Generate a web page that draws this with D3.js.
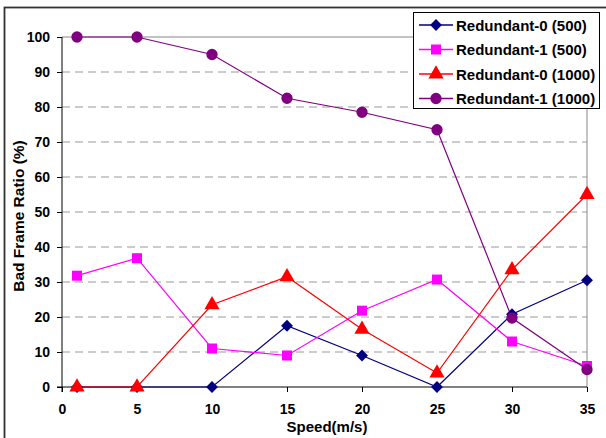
<!DOCTYPE html>
<html><head><meta charset="utf-8">
<script src="https://cdn.jsdelivr.net/npm/d3@7"></script>
<style>body{margin:0;background:#fff}svg{display:block}text{font-family:"Liberation Sans",Arial,sans-serif;font-weight:bold}</style>
</head><body>
<script>
const speeds = [1, 5, 10, 15, 20, 25, 30, 35];
const xTicks = [0, 5, 10, 15, 20, 25, 30, 35];
const yTicks = [0, 10, 20, 30, 40, 50, 60, 70, 80, 90, 100];
const seriesNames = ["Redundant-0 (500)", "Redundant-1 (500)", "Redundant-0 (1000)", "Redundant-1 (1000)"];
const red0_500 = [0, 0, 0, 17.5, 9, 0, 20.8, 30.5];
const red1_500 = [31.8, 36.8, 11, 9, 21.8, 30.7, 13, 6];
const red0_1000 = [0, 0, 23.5, 31.5, 16.5, 4, 33.5, 55];
const red1_1000 = [100, 100, 95, 82.5, 78.5, 73.5, 19.7, 5];
const colors = ["#000080", "#FF00FF", "#FF0000", "#800080"];
const allSeries = [red0_500, red1_500, red0_1000, red1_1000];

// wide diamond = square rotated 45 degrees
const wideDiamond = { draw(ctx, size) { const r = Math.sqrt(size / 2); ctx.moveTo(0, -r); ctx.lineTo(r, 0); ctx.lineTo(0, r); ctx.lineTo(-r, 0); ctx.closePath(); } };
const symbols = [wideDiamond, d3.symbolSquare, d3.symbolTriangle, d3.symbolCircle];
const symSizes = [70, 100, 100, 100];

const W = 606, H = 438;
const svg = d3.select("body").append("svg").attr("width", W).attr("height", H);
// outer frame
svg.append("rect").attr("x", 4.5).attr("y", 7.5).attr("width", 620).attr("height", 450)
  .attr("fill", "none").attr("stroke", "#333").attr("stroke-width", 1.8);

const L = 62, R = 587, T = 37, B = 387;
const x = d3.scaleLinear().domain([0, 35]).range([L, R]);
const y = d3.scaleLinear().domain([0, 100]).range([B, T]);

// gridlines
svg.append("g").selectAll("line").data(yTicks.filter(v => v > 0 && v < 100)).join("line")
  .attr("x1", L).attr("x2", R).attr("y1", d => y(d)).attr("y2", d => y(d))
  .attr("stroke", "#999").attr("stroke-width", 1).attr("stroke-dasharray", "8,5");
// top and right border
svg.append("line").attr("x1", L).attr("x2", R).attr("y1", y(100)).attr("y2", y(100)).attr("stroke", "#888").attr("stroke-width", 1);
svg.append("line").attr("x1", R).attr("x2", R).attr("y1", T).attr("y2", B).attr("stroke", "#888").attr("stroke-width", 1);

// axes
const yAxis = d3.axisLeft(y).tickValues(yTicks).tickSize(5).tickPadding(7);
const gy = svg.append("g").attr("transform", `translate(${L},0)`).call(yAxis);
gy.select(".domain").attr("d", `M0,${B + 5}V${T}`).attr("stroke", "#000");
gy.selectAll("text").attr("font-size", 14).attr("fill", "#000");
const xAxis = d3.axisBottom(x).tickValues(xTicks).tickSize(5).tickPadding(12);
const gx = svg.append("g").attr("transform", `translate(0,${B})`).call(xAxis);
gx.select(".domain").attr("d", `M${L - 5},0H${R}`).attr("stroke", "#000");
gx.selectAll("text").attr("font-size", 14).attr("fill", "#000");

svg.append("text").attr("transform", `translate(24,216) rotate(-90)`)
  .attr("text-anchor", "middle").attr("font-size", 15.5).text("Bad Frame Ratio (%)");
svg.append("text").attr("x", 327).attr("y", 432).attr("text-anchor", "middle")
  .attr("font-size", 15).text("Speed(m/s)");

const line = d3.line().x((d, i) => x(speeds[i])).y(d => y(d));
allSeries.forEach((s, k) => {
  svg.append("path").datum(s).attr("d", line).attr("fill", "none")
    .attr("stroke", colors[k]).attr("stroke-width", 1.2);
});
allSeries.forEach((s, k) => {
  svg.append("g").selectAll("path").data(s).join("path")
    .attr("transform", (d, i) => `translate(${x(speeds[i])},${y(d)})`)
    .attr("d", d3.symbol().type(symbols[k]).size(symSizes[k]))
    .attr("fill", colors[k]);
});

// legend
const lg = svg.append("g");
lg.append("rect").attr("x", 413.5).attr("y", 12.5).attr("width", 186).attr("height", 96)
  .attr("fill", "#fff").attr("stroke", "#000").attr("stroke-width", 1);
seriesNames.forEach((n, k) => {
  const yy = 25 + k * 24.5;
  lg.append("line").attr("x1", 419).attr("x2", 453).attr("y1", yy).attr("y2", yy)
    .attr("stroke", colors[k]).attr("stroke-width", 1.5);
  lg.append("path").attr("transform", `translate(436,${yy})`)
    .attr("d", d3.symbol().type(symbols[k]).size(symSizes[k])).attr("fill", colors[k]);
  lg.append("text").attr("x", 456).attr("y", yy + 5.5).attr("font-size", 15).text(n);
});
</script>
</body></html>
